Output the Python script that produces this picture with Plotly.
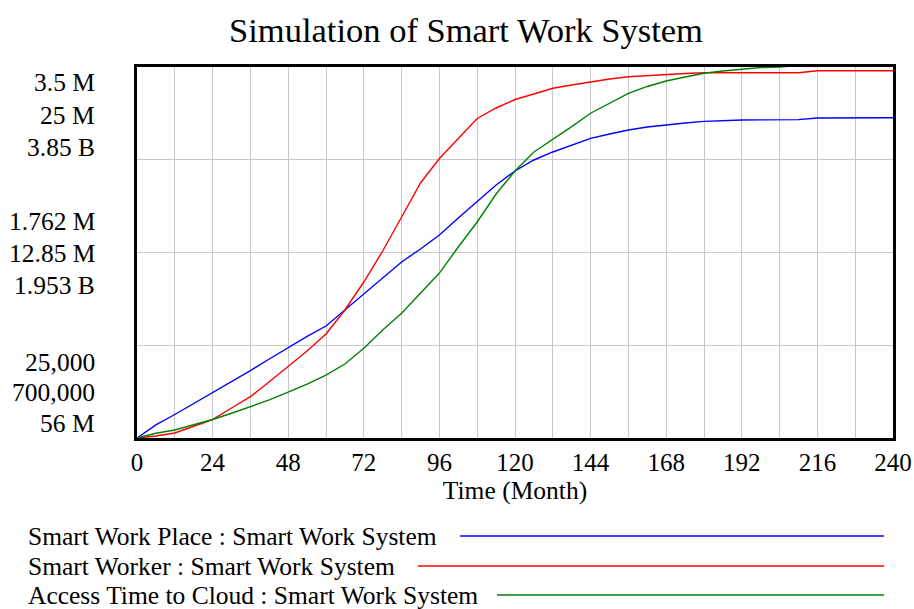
import plotly.graph_objects as go

# ---- data ----
months = [0, 6, 12, 18, 24, 30, 36, 42, 48, 54, 60, 66, 72, 78, 84, 90, 96, 102,
          108, 114, 120, 126, 132, 138, 144, 150, 156, 162, 168, 174, 180, 186,
          192, 198, 204, 210, 216, 222, 228, 234, 240]

smart_work_place = [25000, 147000, 245000, 348000, 446000, 554000, 657000, 765000,
                    873000, 976000, 1074000, 1224000, 1369000, 1528000, 1674000,
                    1795000, 1926000, 2086000, 2240000, 2395000, 2526000, 2629000,
                    2704000, 2770000, 2832000, 2872000, 2910000, 2938000, 2960000,
                    2976000, 2991000, 2998000, 3004000, 3005000, 3006000, 3007000,
                    3022000, 3024000, 3025000, 3025000, 3025000]

smart_worker = [700000, 831000, 1027000, 1453000, 1912000, 2665000, 3405000, 4388000,
                5383000, 6398000, 7512000, 9084000, 10918000, 12948000, 15175000,
                17402000, 19007000, 20350000, 21627000, 22315000, 22871000, 23232000,
                23605000, 23821000, 24037000, 24214000, 24365000, 24443000, 24522000,
                24574000, 24627000, 24627000, 24627000, 24627000, 24627000, 24627000,
                24758000, 24758000, 24758000, 24758000, 24758000]

access_time_to_cloud = [56e6, 104e6, 138e6, 189e6, 245e6, 309e6, 376e6, 445e6, 526e6,
                        608e6, 700e6, 813e6, 973e6, 1160e6, 1331e6, 1536e6, 1743e6,
                        2009e6, 2265e6, 2551e6, 2786e6, 2981e6, 3109e6, 3240e6, 3377e6,
                        3482e6, 3581e6, 3651e6, 3707e6, 3748e6, 3786e6, 3809e6, 3827e6,
                        3845e6, 3850e6, 3868e6, 3885e6, 3900e6, 3915e6, 3928e6, 3940e6]

series_names = ["Smart Work Place : Smart Work System",
                "Smart Worker : Smart Work System",
                "Access Time to Cloud : Smart Work System"]
series_colors = ["#0000ff", "#ff0000", "#008000"]

# axis scales (min, max) for each series
range_place = [25000, 3.5e6]
range_worker = [700000, 25e6]
range_cloud = [56e6, 3.85e9]

# stacked y labels: bottom, middle, top (one entry per series)
labels_bottom = ["25,000", "700,000", "56 M"]
labels_middle = ["1.762 M", "12.85 M", "1.953 B"]
labels_top = ["3.5 M", "25 M", "3.85 B"]

x_ticks = list(range(0, 241, 12))
x_ticktext = [str(v) if v % 24 == 0 else "" for v in x_ticks]

FONT = "Liberation Serif"

# ---- figure ----
W, H = 914, 609
L, R, T, B = 137, 893, 67, 438   # plot area in pixels

fig = go.Figure()
fig.add_trace(go.Scatter(x=months, y=smart_work_place, mode="lines",
                         line=dict(color=series_colors[0], width=1.4),
                         name=series_names[0], yaxis="y"))
fig.add_trace(go.Scatter(x=months, y=smart_worker, mode="lines",
                         line=dict(color=series_colors[1], width=1.4),
                         name=series_names[1], yaxis="y2"))
fig.add_trace(go.Scatter(x=months, y=access_time_to_cloud, mode="lines",
                         line=dict(color=series_colors[2], width=1.4),
                         name=series_names[2], yaxis="y3"))

def quarter_vals(r):
    return [r[0] + (r[1] - r[0]) * k / 4 for k in range(5)]

fig.update_layout(
    width=W, height=H,
    margin=dict(l=L, r=W - R, t=T, b=H - B, pad=0, autoexpand=False),
    paper_bgcolor="white", plot_bgcolor="white",
    showlegend=False,
    font=dict(family=FONT, color="black", size=24),
    title=dict(text="Simulation of Smart Work System", x=466 / W, xref="container",
               xanchor="center", y=1 - 30 / H, yref="container", yanchor="middle",
               font=dict(family=FONT, size=34.5, color="black")),
    xaxis=dict(range=[0, 240], tickvals=x_ticks, ticktext=x_ticktext,
               showgrid=True, gridcolor="#c8c8c8", gridwidth=1.3,
               showline=True, linecolor="black", linewidth=3, mirror=True,
               ticks="", zeroline=False, automargin=False,
               ticklabeloverflow="allow",
               tickfont=dict(family=FONT, size=25, color="black"),
               title=dict(text="Time (Month)", standoff=4,
                          font=dict(family=FONT, size=25.5, color="black"))),
    yaxis=dict(range=range_place, tickvals=quarter_vals(range_place),
               showticklabels=False, showgrid=True, gridcolor="#c8c8c8", gridwidth=1.3,
               showline=True, linecolor="black", linewidth=3, mirror=True,
               ticks="", zeroline=False, automargin=False),
    yaxis2=dict(range=range_worker, overlaying="y", showticklabels=False,
                showgrid=False, zeroline=False, showline=False, ticks="",
                automargin=False),
    yaxis3=dict(range=range_cloud, overlaying="y", showticklabels=False,
                showgrid=False, zeroline=False, showline=False, ticks="",
                automargin=False),
)

def py(pix):
    return (B - pix) / (B - T)

def px(pix):
    return (pix - L) / (R - L)

annotations = []
label_rows = [(labels_top, [83, 115, 147]),
              (labels_middle, [222, 253, 285]),
              (labels_bottom, [362, 392, 423])]
for texts, ys in label_rows:
    for txt, yy in zip(texts, ys):
        annotations.append(dict(text=txt, x=px(97), y=py(yy), xref="paper", yref="paper",
                                xanchor="right", yanchor="middle", showarrow=False,
                                font=dict(family=FONT, size=25.5, color="black")))

legend_y = [536, 566, 595]
legend_line_start = [460, 418, 497]
shapes = []
for name, color, yy, x0 in zip(series_names, series_colors, legend_y, legend_line_start):
    annotations.append(dict(text=name, x=px(26), y=py(yy), xref="paper", yref="paper",
                            xanchor="left", yanchor="middle", showarrow=False,
                            font=dict(family=FONT, size=25.5, color="black")))
    shapes.append(dict(type="line", xref="paper", yref="paper",
                       x0=px(x0), x1=px(884), y0=py(yy), y1=py(yy),
                       line=dict(color=color, width=1.4)))

fig.update_layout(annotations=annotations, shapes=shapes)

# remove the default 8px page margin so the 914x609 figure fills the window exactly
fig.write_html("out.html",
               config={"displayModeBar": False},
               post_script="document.body.style.margin='0';"
                           "document.body.style.overflow='hidden';")
